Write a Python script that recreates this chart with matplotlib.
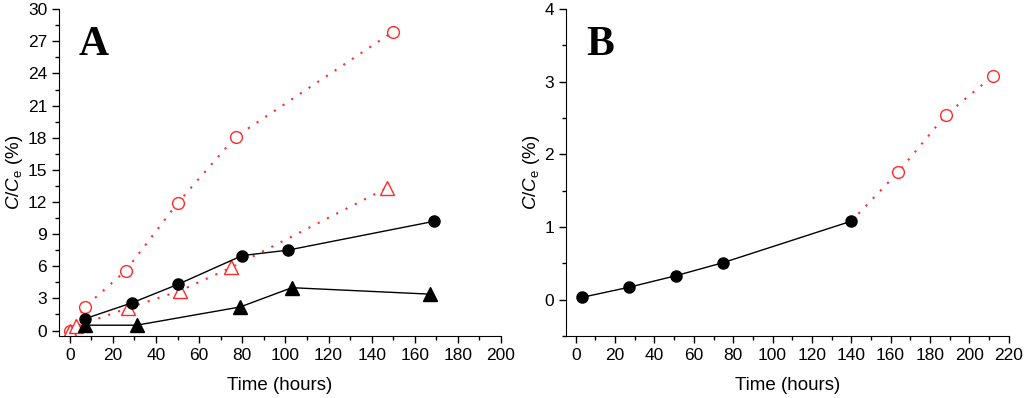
import matplotlib
matplotlib.use("Agg")
import matplotlib.pyplot as plt
from matplotlib.ticker import MultipleLocator

plt.rcParams["font.family"] = ["Liberation Sans", "DejaVu Sans"]
plt.rcParams["mathtext.fontset"] = "custom"
plt.rcParams["mathtext.rm"] = "Liberation Sans"
plt.rcParams["mathtext.it"] = "Liberation Sans:italic"

# Panel A
a_open_circ_x = [0, 7, 26, 50, 77, 150]
a_open_circ_y = [0.0, 2.2, 5.6, 11.9, 18.1, 27.9]
a_open_tri_x = [0, 3, 27, 51, 75, 147]
a_open_tri_y = [0.0, 0.4, 2.1, 3.7, 5.9, 13.3]
a_fill_circ_x = [7, 29, 50, 80, 101, 169]
a_fill_circ_y = [1.1, 2.6, 4.3, 7.0, 7.5, 10.2]
a_fill_tri_x = [7, 31, 79, 103, 167]
a_fill_tri_y = [0.5, 0.5, 2.2, 4.0, 3.4]

# Panel B
b_fill_x = [3, 27, 51, 75, 140]
b_fill_y = [0.03, 0.17, 0.33, 0.51, 1.08]
b_open_x = [140, 164, 188, 212]
b_open_y = [1.08, 1.76, 2.54, 3.08]

RED = "#ff2a2a"
DOT = (0, (1, 4))
MS = 8

fig = plt.figure(figsize=(10.24, 3.98), dpi=100)
ax_a = fig.add_axes([0.0576, 0.156, 0.4317, 0.821])
ax_b = fig.add_axes([0.5527, 0.156, 0.4323, 0.821])

ax_a.plot(a_open_circ_x, a_open_circ_y, ls=DOT, color=RED, lw=1.5, marker="o",
          ms=MS + 0.5, mfc="white", mec=RED, mew=1.0)
ax_a.plot(a_open_tri_x, a_open_tri_y, ls=DOT, color=RED, lw=1.5, marker="^",
          ms=MS + 1.5, mfc="white", mec=RED, mew=1.0)
ax_a.plot(a_fill_circ_x, a_fill_circ_y, "-", color="black", lw=1.0, marker="o", ms=MS)
ax_a.plot(a_fill_tri_x, a_fill_tri_y, "-", color="black", lw=1.0, marker="^", ms=MS + 1.5)

ax_b.plot(b_open_x, b_open_y, ls=DOT, color=RED, lw=1.5)
ax_b.plot(b_open_x[1:], b_open_y[1:], ls="none", marker="o", ms=MS + 0.5,
          mfc="white", mec=RED, mew=1.0)
ax_b.plot(b_fill_x, b_fill_y, "-", color="black", lw=1.0, marker="o", ms=MS)

ax_a.set_xlim(-5, 200)
ax_a.set_ylim(-0.5, 30)
ax_a.xaxis.set_major_locator(MultipleLocator(20))
ax_a.xaxis.set_minor_locator(MultipleLocator(10))
ax_a.yaxis.set_major_locator(MultipleLocator(3))
ax_a.yaxis.set_minor_locator(MultipleLocator(1.5))

ax_b.set_xlim(-5, 220)
ax_b.set_ylim(-0.5, 4)
ax_b.xaxis.set_major_locator(MultipleLocator(20))
ax_b.xaxis.set_minor_locator(MultipleLocator(10))
ax_b.yaxis.set_major_locator(MultipleLocator(1))
ax_b.yaxis.set_minor_locator(MultipleLocator(0.5))

for ax, letter in [(ax_a, "A"), (ax_b, "B")]:
    for side in ["top", "right"]:
        ax.spines[side].set_visible(False)
    ax.tick_params(which="major", direction="out", length=5, width=1, labelsize=12.5)
    ax.tick_params(which="minor", direction="out", length=3, width=1)
    ax.set_xlabel("Time (hours)", fontsize=13.5, labelpad=10)
    ax.set_ylabel(r"$C/C_\mathrm{e}$ (%)", fontsize=13.5, labelpad=2)
    ax.text(0.078, 0.89, letter, transform=ax.transAxes, ha="center", va="center",
            fontsize=30, fontweight="bold", family="Liberation Serif")

fig.savefig("out.png", dpi=100)
